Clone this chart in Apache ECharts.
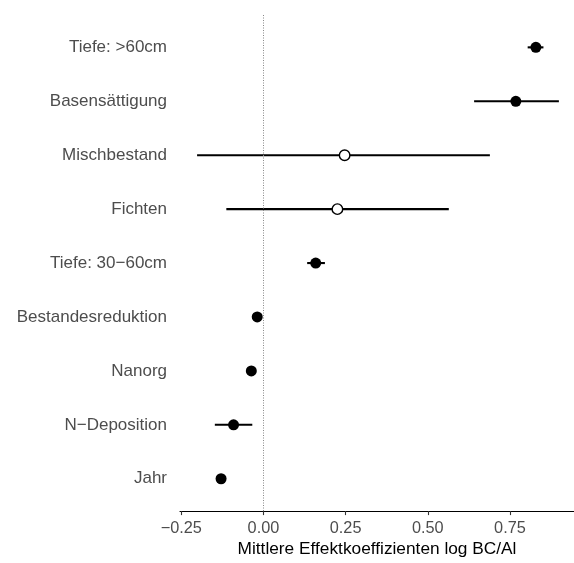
<!DOCTYPE html>
<html>
<head>
<meta charset="utf-8">
<script src="https://cdn.jsdelivr.net/npm/echarts@6/dist/echarts.min.js"></script>
<style>
html,body{margin:0;padding:0;background:#fff;}
#chart{width:574px;height:563px;}
</style>
</head>
<body>
<div id="chart"></div>
<script>
// Data (top to bottom)
const categories = ["Tiefe: >60cm", "Basensättigung", "Mischbestand", "Fichten", "Tiefe: 30−60cm", "Bestandesreduktion", "Nanorg", "N−Deposition", "Jahr"];
const estimates  = [0.829, 0.768, 0.247, 0.225, 0.159, -0.019, -0.037, -0.091, -0.129];
const lower      = [0.804, 0.641, -0.202, -0.113, 0.133, -0.024, -0.041, -0.148, -0.133];
const upper      = [0.852, 0.899, 0.689, 0.564, 0.187, -0.014, -0.033, -0.034, -0.125];
const significant = [true, true, false, false, true, true, true, true, true];
const xTicks = [-0.25, 0, 0.25, 0.5, 0.75];

const FONT = "'Liberation Sans', Arial, Helvetica, sans-serif";
const idx = categories.map((_, i) => i);

const barData = categories.map((c, i) => [lower[i], upper[i], i]);
const filledData = [];
const openData = [];
categories.forEach((c, i) => {
  (significant[i] ? filledData : openData).push([estimates[i], i]);
});

const chart = echarts.init(document.getElementById('chart'), null, {renderer: 'canvas'});
chart.setOption({
  animation: false,
  backgroundColor: '#ffffff',
  grid: {left: 180, right: 0, top: 15, bottom: 49, containLabel: false},
  xAxis: {
    type: 'value',
    min: -0.254,
    max: 0.945,
    splitLine: {show: false},
    axisLine: {show: true, onZero: false, lineStyle: {color: '#000', width: 1.1}},
    axisTick: {show: true, length: 4, customValues: xTicks, lineStyle: {color: '#333', width: 1.1}},
    axisLabel: {
      customValues: xTicks,
      margin: 9,
      fontSize: 16.3,
      fontFamily: FONT,
      color: '#4D4D4D',
      formatter: v => v.toFixed(2).replace('-', '−')
    },
    name: 'Mittlere Effektkoeffizienten log BC/Al',
    nameLocation: 'middle',
    nameGap: 27,
    nameTextStyle: {fontSize: 17.3, fontFamily: FONT, color: '#000'}
  },
  yAxis: {
    type: 'value',
    inverse: true,
    min: -0.6,
    max: 8.6,
    splitLine: {show: false},
    axisLine: {show: false, onZero: false},
    axisTick: {show: false},
    axisLabel: {
      customValues: idx,
      margin: 13,
      fontSize: 17,
      fontFamily: FONT,
      color: '#4D4D4D',
      formatter: v => categories[Math.round(v)]
    }
  },
  series: [
    {
      type: 'custom',
      data: barData,
      encode: {x: [0, 1], y: 2},
      renderItem: function (params, api) {
        const p1 = api.coord([api.value(0), api.value(2)]);
        const p2 = api.coord([api.value(1), api.value(2)]);
        return {
          type: 'line',
          shape: {x1: p1[0], y1: p1[1], x2: p2[0], y2: p2[1]},
          style: {stroke: '#000', lineWidth: 2.1}
        };
      },
      z: 2,
      markLine: {
        silent: true,
        symbol: 'none',
        label: {show: false},
        lineStyle: {color: '#888', type: [1, 1.5], width: 1, opacity: 1},
        data: [{xAxis: 0}]
      }
    },
    {
      type: 'scatter',
      data: filledData,
      symbol: 'circle',
      symbolSize: 11,
      itemStyle: {color: '#000', opacity: 1},
      z: 3
    },
    {
      type: 'scatter',
      data: openData,
      symbol: 'circle',
      symbolSize: 10.5,
      itemStyle: {color: '#fff', borderColor: '#000', borderWidth: 1.4, opacity: 1},
      z: 3
    }
  ]
});
</script>
</body>
</html>
